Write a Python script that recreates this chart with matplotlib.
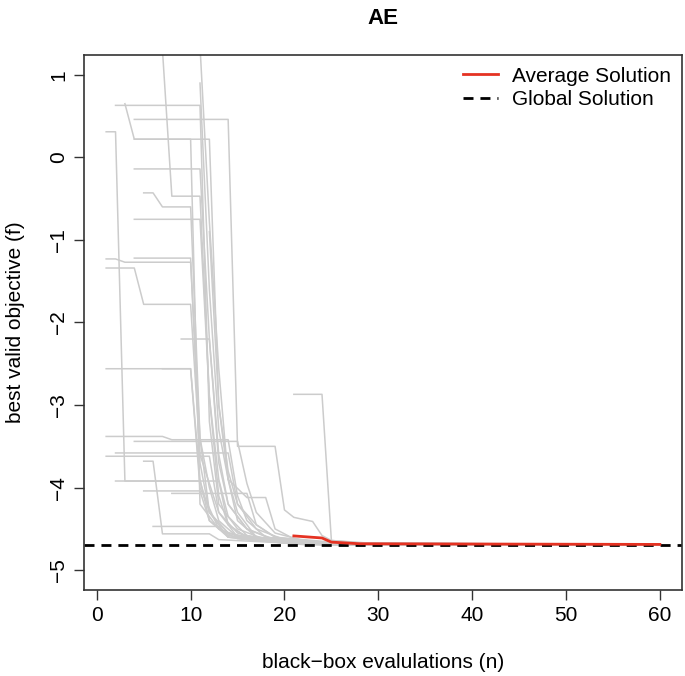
from __future__ import annotations

import matplotlib

matplotlib.use("Agg")
import matplotlib.pyplot as plt

# each run: vertices (n, best valid objective) of the best-so-far trace
RUNS = [
    [(7, 1.3), (8, -0.47), (11, -0.47), (12, -2.9), (13, -4.1), (14, -4.45), (16, -4.6), (22, -4.66), (26, -4.69), (60, -4.69)],
    [(11, 1.35), (12, -0.78), (13, -2.56), (14, -3.9), (15, -4.4), (17, -4.6), (24, -4.66), (28, -4.69), (60, -4.69)],
    [(2, 0.63), (11, 0.63), (12, -3.2), (13, -4.2), (15, -4.5), (18, -4.63), (23, -4.66), (24, -4.69), (60, -4.69)],
    [(3, 0.65), (4, 0.22), (12, 0.22), (13, -3.0), (14, -3.9), (15, -4.3), (17, -4.6), (22, -4.65), (27, -4.69), (60, -4.69)],
    [(4, 0.22), (10, 0.22), (11, -4.2), (13, -4.5), (15, -4.62), (20, -4.67), (60, -4.69)],
    [(4, 0.46), (14, 0.46), (15, -3.5), (19, -3.5), (20, -4.27), (21, -4.36), (23, -4.41), (24, -4.58),
     (25, -4.64), (29, -4.68), (60, -4.69)],
    [(4, -0.14), (11, -0.14), (12, -2.2), (13, -3.6), (14, -4.2), (16, -4.5), (19, -4.64), (25, -4.68), (60, -4.69)],
    [(5, -0.43), (6, -0.43), (7, -0.6), (10, -0.6), (11, -3.4), (12, -4.3), (14, -4.55), (17, -4.64), (23, -4.68), (60, -4.69)],
    [(4, -0.75), (11, -0.75), (12, -2.9), (13, -3.9), (14, -4.35), (16, -4.58), (20, -4.65), (26, -4.69), (60, -4.69)],
    [(4, -1.22), (10, -1.22), (11, -3.7), (12, -4.3), (14, -4.6), (19, -4.66), (22, -4.69), (60, -4.69)],
    [(1, -1.23), (2, -1.23), (3, -1.27), (10, -1.27), (11, -3.4), (12, -4.0), (13, -4.4), (15, -4.6), (21, -4.67), (60, -4.69)],
    [(1, -1.34), (4, -1.34), (5, -1.78), (10, -1.78), (11, -3.6), (13, -4.3), (15, -4.55), (18, -4.64), (24, -4.69), (60, -4.69)],
    [(9, -2.2), (12, -2.2), (13, -3.7), (14, -4.2), (16, -4.5), (19, -4.63), (25, -4.67), (60, -4.69)],
    [(1, -2.56), (10, -2.56), (11, -3.9), (12, -4.4), (14, -4.6), (18, -4.65), (23, -4.69), (60, -4.69)],
    [(7, -2.56), (10, -2.56), (11, -4.0), (13, -4.5), (16, -4.63), (21, -4.68), (60, -4.69)],
    [(21, -2.87), (24, -2.87), (25, -4.64), (30, -4.68), (60, -4.69)],
    [(1, -3.38), (7, -3.38), (8, -3.42), (14, -3.42), (15, -4.1), (16, -4.4), (18, -4.6), (24, -4.66), (28, -4.69), (60, -4.69)],
    [(4, -3.44), (15, -3.44), (16, -3.95), (17, -4.3), (19, -4.55), (22, -4.64), (27, -4.68), (60, -4.69)],
    [(2, -3.58), (14, -3.58), (15, -4.2), (17, -4.5), (20, -4.63), (25, -4.68), (60, -4.69)],
    [(1, -3.62), (12, -3.62), (13, -4.3), (15, -4.6), (20, -4.66), (24, -4.69), (60, -4.69)],
    [(5, -3.68), (6, -3.68), (7, -4.56), (12, -4.56), (13, -4.63), (20, -4.67), (60, -4.69)],
    [(6, -4.47), (13, -4.47), (14, -4.6), (21, -4.65), (25, -4.69), (60, -4.69)],
    [(5, -4.04), (11, -4.04), (12, -4.4), (14, -4.58), (19, -4.64), (23, -4.68), (60, -4.69)],
    [(8, -4.07), (16, -4.07), (17, -4.45), (19, -4.6), (24, -4.66), (29, -4.69), (60, -4.69)],
    [(2, -3.92), (11, -3.92), (12, -4.3), (14, -4.55), (18, -4.64), (22, -4.68), (60, -4.69)],
    [(1, 0.31), (2, 0.31), (3, -3.92), (13, -3.92), (14, -4.45), (16, -4.6), (22, -4.66), (26, -4.69), (60, -4.69)],
    [(11, 0.9), (12, -1.6), (13, -3.3), (14, -3.9), (16, -4.12), (18, -4.12), (19, -4.5), (21, -4.62), (26, -4.67), (60, -4.69)],
    [(12, -0.9), (13, -3.0), (14, -3.8), (15, -4.2), (17, -4.45), (19, -4.6), (23, -4.65), (27, -4.69), (60, -4.69)],
]

AVG_N = [21, 24, 25, 28, 60]
AVG_F = [-4.585, -4.61, -4.66, -4.68, -4.688]

GLOBAL_F = -4.70

X_TICKS = [0, 10, 20, 30, 40, 50, 60]
Y_TICKS = [1, 0, -1, -2, -3, -4, -5]


def main() -> None:
    plt.rcParams["font.family"] = ["Liberation Sans", "DejaVu Sans"]
    fig = plt.figure(figsize=(6.85, 6.76), dpi=100)
    ax = fig.add_axes([84 / 685, 86 / 676, 598 / 685, 535 / 676])

    for run in RUNS:
        ns = [p[0] for p in run]
        fs = [p[1] for p in run]
        ax.plot(ns, fs, color="#CCCCCC", linewidth=1.1, zorder=1)

    ax.plot(AVG_N, AVG_F, color="#E53222", linewidth=2.0, zorder=3, label="Average Solution")
    ax.axhline(GLOBAL_F, color="black", linewidth=2.0, linestyle=(0, (3.6, 2.5)), zorder=2,
               label="Global Solution")

    ax.set_xlim(-1.36, 62.36)
    ax.set_ylim(-5.24, 1.24)
    ax.set_xticks(X_TICKS)
    ax.set_xticklabels([str(v) for v in X_TICKS])
    ax.set_yticks(Y_TICKS)
    ax.set_yticklabels([str(v).replace("-", "\u2212") for v in Y_TICKS], rotation=90, va="center")
    ax.tick_params(axis="both", direction="out", length=7, width=1.0, labelsize=15, pad=4.5, color="#333333")

    for side in ["top", "right", "bottom", "left"]:
        ax.spines[side].set_linewidth(1.2)
        ax.spines[side].set_color("#333333")

    ax.set_xlabel("black\u2212box evalulations (n)", fontsize=15, labelpad=20)
    ax.set_ylabel("best valid objective (f)", fontsize=15, labelpad=17)
    ax.set_title("AE", fontsize=16, fontweight="bold", pad=22)

    ax.legend(loc="upper left", bbox_to_anchor=(0.634, 0.978), frameon=False, fontsize=15,
              handlelength=1.65, handletextpad=0.7, borderpad=0, borderaxespad=0, labelspacing=0.2)

    fig.savefig("out.png", dpi=100)
    plt.close(fig)


if __name__ == "__main__":
    main()
